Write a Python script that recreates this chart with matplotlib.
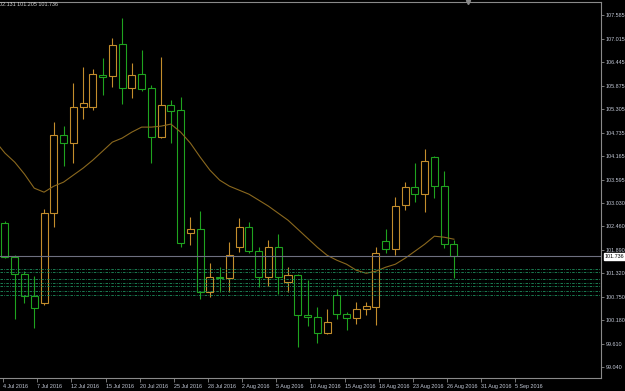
import numpy as np
import matplotlib
matplotlib.use('Agg')
import matplotlib.pyplot as plt
from matplotlib.patches import Rectangle
from matplotlib.transforms import blended_transform_factory

# daily bars (Sunday bars included), 4 Jul 2016 .. 26 Aug 2016
opens = [102.535, 101.710, 101.297, 100.763, 100.593, 102.778, 104.672, 104.477, 105.351, 105.351,
         106.128, 106.104, 106.881, 105.813, 106.153, 105.813, 104.623, 105.400, 105.279, 102.292,
         102.390, 100.860, 101.224, 101.200, 101.953, 102.438, 101.855, 101.224, 101.953, 101.103,
         101.273, 100.302, 100.253, 99.865, 100.787, 100.326, 100.229, 100.447, 100.496, 102.098,
         101.904, 102.972, 103.409, 103.239, 104.138, 103.433, 102.025]
highs = [102.584, 101.758, 101.370, 101.248, 102.875, 104.987, 104.890, 105.934, 106.323, 106.274,
         106.541, 107.027, 107.512, 106.420, 106.735, 105.886, 106.565, 105.521, 105.594, 102.681,
         102.827, 101.564, 101.467, 102.074, 102.657, 102.559, 101.953, 102.122, 102.268, 101.467,
         101.297, 101.151, 100.496, 100.447, 100.933, 100.374, 100.617, 100.617, 101.953, 102.390,
         103.166, 103.531, 103.992, 104.332, 104.160, 103.798, 102.131]
lows = [101.686, 100.204, 100.593, 99.986, 100.544, 102.438, 103.919, 103.992, 105.060, 105.279,
        105.643, 105.837, 105.424, 105.570, 105.740, 103.992, 104.600, 104.477, 101.953, 102.001,
        100.690, 100.739, 100.860, 100.860, 101.831, 101.807, 100.981, 101.006, 100.811, 100.860,
        99.525, 100.035, 99.622, 99.850, 100.204, 99.937, 100.083, 100.302, 100.059, 101.807,
        101.758, 102.851, 103.045, 102.802, 103.142, 101.928, 101.205]
closes = [101.710, 101.297, 100.763, 100.472, 102.778, 104.672, 104.477, 105.351, 105.449, 106.153,
          106.080, 106.857, 105.813, 106.128, 105.788, 104.623, 105.400, 105.254, 102.050, 102.390,
          100.860, 101.224, 101.200, 101.758, 102.438, 101.855, 101.224, 101.953, 101.224, 101.273,
          100.302, 100.253, 99.865, 100.132, 100.326, 100.229, 100.447, 100.520, 101.807, 101.904,
          102.948, 103.409, 103.239, 104.040, 103.433, 102.025, 101.736]

# moving average, starting one bar before the first visible candle
ma_values = [104.526, 104.235, 104.016, 103.725, 103.385, 103.288, 103.433, 103.531, 103.701, 103.870,
             104.065, 104.283, 104.502, 104.599, 104.745, 104.866, 104.866, 104.890, 104.939, 104.745,
             104.477, 104.138, 103.822, 103.579, 103.433, 103.336, 103.239, 103.094, 102.948, 102.778,
             102.608, 102.390, 102.171, 101.953, 101.758, 101.637, 101.540, 101.394, 101.321, 101.370,
             101.467, 101.540, 101.686, 101.855, 102.025, 102.220, 102.195, 102.147]

levels = [101.435, 101.353, 101.193, 101.095, 101.006, 100.892, 100.804]
bid = 101.736

price_ticks = [99.040, 99.610, 100.180, 100.750, 101.320, 101.890, 102.460, 103.030,
               103.595, 104.165, 104.735, 105.305, 105.875, 106.445, 107.015, 107.585]
date_labels = ['4 Jul 2016', '7 Jul 2016', '12 Jul 2016', '15 Jul 2016', '20 Jul 2016',
               '25 Jul 2016', '28 Jul 2016', '2 Aug 2016', '5 Aug 2016', '10 Aug 2016',
               '15 Aug 2016', '18 Aug 2016', '23 Aug 2016', '26 Aug 2016', '31 Aug 2016',
               '5 Sep 2016']
header = '02.131 101.205 101.736'

up_col = '#c38d2c'
down_col = '#1fa31f'
axis_col = '#8a8a8a'
label_col = '#c4cad8'
font = ['Liberation Sans', 'DejaVu Sans']
fs = 3.9

fig = plt.figure(figsize=(6.25, 3.91), dpi=100, facecolor='black')
ax = fig.add_axes([0, 13 / 391, 601 / 625, 376 / 391], facecolor='black')

for i, (o, h, l, c) in enumerate(zip(opens, highs, lows, closes)):
    col = up_col if c >= o else down_col
    ax.vlines(i, l, h, color=col, lw=0.8, zorder=2)
    ax.add_patch(Rectangle((i - 0.36, min(o, c)), 0.72, max(abs(c - o), 0.02),
                           facecolor='black', edgecolor=col, lw=0.8, zorder=3))

ax.plot(np.arange(-1, len(ma_values) - 1), ma_values, color='#8a681e', lw=0.8, zorder=4)

for lv in levels:
    ax.axhline(lv, color='#1f8f5e', lw=0.6, dashes=(3, 1.5, 1, 1.5), zorder=5)
ax.axhline(bid, color='#6e7080', lw=0.8, zorder=5)

ax.set_xlim(-0.51, 61.07)
ax.set_ylim(98.780, 107.901)

for side in ['top', 'right', 'bottom']:
    ax.spines[side].set_color(axis_col)
    ax.spines[side].set_linewidth(0.8)
ax.spines['left'].set_visible(False)

ax.yaxis.tick_right()
ax.set_yticks(price_ticks, ['%.3f' % v for v in price_ticks], family=font, fontsize=fs)
ax.tick_params(axis='y', colors=axis_col, labelcolor=label_col, length=2, width=0.6, pad=1.2)

xpos = np.arange(len(date_labels)) * 3.5 - 0.2
ax.set_xticks(xpos, date_labels, family=font, fontsize=fs, ha='left')
ax.tick_params(axis='x', colors=axis_col, labelcolor=label_col, length=3, width=0.6, pad=1.5)

trans = blended_transform_factory(ax.transAxes, ax.transData)
ax.text(1.006, bid, '%.3f' % bid, transform=trans, family=font, fontsize=fs, color='black',
        va='center', ha='left', clip_on=False,
        bbox=dict(boxstyle='square,pad=0.2', fc='white', ec='white'))

ax.plot([0.778], [1.0], marker='v', color=axis_col, ms=3, transform=ax.transAxes, clip_on=False)

fig.text(-0.002, 1 - 5 / 391, header, family=font, fontsize=fs, color='#d0d0d0', va='center', ha='left')

fig.savefig('out.png', dpi=100, facecolor='black')
